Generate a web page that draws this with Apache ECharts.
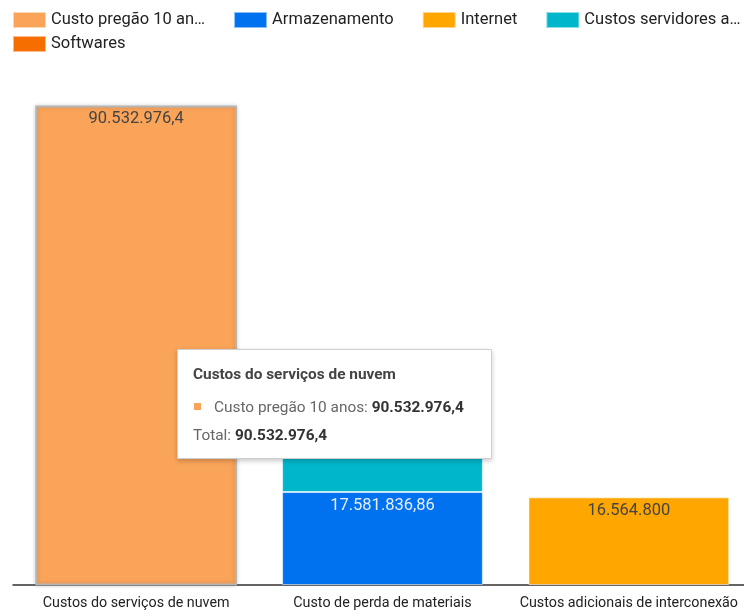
<!DOCTYPE html>
<html>
<head>
<meta charset="utf-8">
<script src="https://cdn.jsdelivr.net/npm/echarts@6/dist/echarts.min.js"></script>
<style>
  html, body { margin: 0; padding: 0; background: #fff; }
  #chart { width: 744px; height: 610px; }
</style>
</head>
<body>
<div id="chart"></div>
<script>
// Categories along the x axis
const categories = [
  'Custos do serviços de nuvem',
  'Custo de perda de materiais',
  'Custos adicionais de interconexão'
];

// One stacked series per cost type
const seriesNames = [
  'Custo pregão 10 anos',
  'Armazenamento',
  'Internet',
  'Custos servidores adicionais',
  'Softwares'
];
const custoPregao   = [90532976.4, null, null];
const armazenamento = [null, 17581836.86, null];
const internet      = [null, null, 16564800];
const servidores    = [null, 12000000, null];
const softwares     = [null, 8000000, null];

const seriesValues = [custoPregao, armazenamento, internet, servidores, softwares];
const colors = ['#FAA45A', '#0072F0', '#FFA600', '#00B6CB', '#F66D00'];
const labelColors = ['#444444', '#E6EEFB', '#444444', '#FFFFFF', '#FFFFFF'];

// Brazilian number format: 90.532.976,4
function fmt(v) {
  const neg = v < 0;
  let s = Math.abs(v).toFixed(2).replace(/0+$/, '').replace(/\.$/, '');
  let [ip, fp] = s.split('.');
  ip = ip.replace(/\B(?=(\d{3})+(?!\d))/g, '.');
  return (neg ? '-' : '') + ip + (fp ? ',' + fp : '');
}

function categoryTotal(idx) {
  return seriesValues.reduce((acc, arr) => acc + (arr[idx] || 0), 0);
}

// Shorten long legend names to a maximum pixel width, ending with an ellipsis
const LEGEND_FONT = '16.5px Roboto';
const measureCtx = document.createElement('canvas').getContext('2d');
function shorten(name, maxW) {
  measureCtx.font = LEGEND_FONT;
  if (measureCtx.measureText(name).width <= maxW) return name;
  let s = name;
  while (s.length > 1 && measureCtx.measureText(s + '…').width > maxW) s = s.slice(0, -1);
  return s + '…';
}

const chart = echarts.init(document.getElementById('chart'), null, { renderer: 'canvas' });

const legendBase = {
  type: 'plain',
  left: 12,
  padding: 0,
  itemWidth: 33,
  itemHeight: 16,
  itemGap: 28,
  icon: 'rect',
  textStyle: { fontFamily: 'Roboto', fontSize: 16.5, color: '#222' },
  formatter: name => shorten(name, 157)
};

const option = {
  animation: false,
  textStyle: { fontFamily: 'Roboto' },
  color: colors,
  legend: [
    Object.assign({}, legendBase, { top: 11, data: seriesNames.slice(0, 4) }),
    Object.assign({}, legendBase, { top: 35, data: seriesNames.slice(4) })
  ],
  tooltip: {
    trigger: 'item',
    alwaysShowContent: true,
    triggerOn: 'none',
    transitionDuration: 0,
    position: [177, 349],
    padding: 0,
    backgroundColor: '#fff',
    borderColor: '#cfcfcf',
    borderWidth: 1,
    extraCssText: 'width:315px;height:110px;box-sizing:border-box;border-radius:1px;box-shadow:0 2px 5px rgba(0,0,0,0.22);',
    formatter: function (p) {
      const total = categoryTotal(p.dataIndex);
      return '<div style="font-family:Roboto;padding:0 15px;line-height:19px;font-size:15.4px;color:#666;">' +
        '<div style="padding-top:15px;font-weight:bold;color:#444;">' + p.name + '</div>' +
        '<div style="margin-top:14px;">' +
          '<span style="display:inline-block;width:7px;height:7px;background:' + p.color + ';margin:0 13px 3px 1px;vertical-align:middle;"></span>' +
          p.seriesName + ': <b style="color:#333;">' + fmt(p.value) + '</b></div>' +
        '<div style="margin-top:9px;">Total: <b style="color:#333;">' + fmt(total) + '</b></div>' +
        '</div>';
    }
  },
  grid: { left: 13, width: 739, top: 56, height: 529, outerBoundsMode: 'none', containLabel: false },
  xAxis: {
    type: 'category',
    data: categories,
    axisLine: { lineStyle: { color: '#333', width: 1.5 } },
    axisTick: { show: false },
    axisLabel: { color: '#222', fontSize: 14.3, margin: 11, fontFamily: 'Roboto', interval: 0 }
  },
  yAxis: {
    type: 'value',
    min: 0,
    max: 100000000,
    show: false,
    splitLine: { show: false }
  },
  series: seriesNames.map((name, i) => ({
    name: name,
    type: 'bar',
    stack: 'custos',
    barCategoryGap: '18.5%',
    data: seriesValues[i],
    itemStyle: {
      color: colors[i],
      borderColor: 'rgba(255,255,255,0.55)',
      borderWidth: 1
    },
    emphasis: {
      itemStyle: {
        color: colors[i],
        borderColor: '#b5b5b5',
        borderWidth: 2,
        shadowBlur: 4,
        shadowColor: 'rgba(0,0,0,0.18)'
      },
      label: { show: true }
    },
    label: {
      show: true,
      position: 'insideTop',
      distance: 5,
      fontSize: 16.5,
      fontFamily: 'Roboto',
      color: labelColors[i],
      formatter: p => (p.value == null ? '' : fmt(p.value))
    }
  }))
};

chart.setOption(option);
chart.dispatchAction({ type: 'highlight', seriesIndex: 0, dataIndex: 0 });
chart.dispatchAction({ type: 'showTip', seriesIndex: 0, dataIndex: 0 });
</script>
</body>
</html>
